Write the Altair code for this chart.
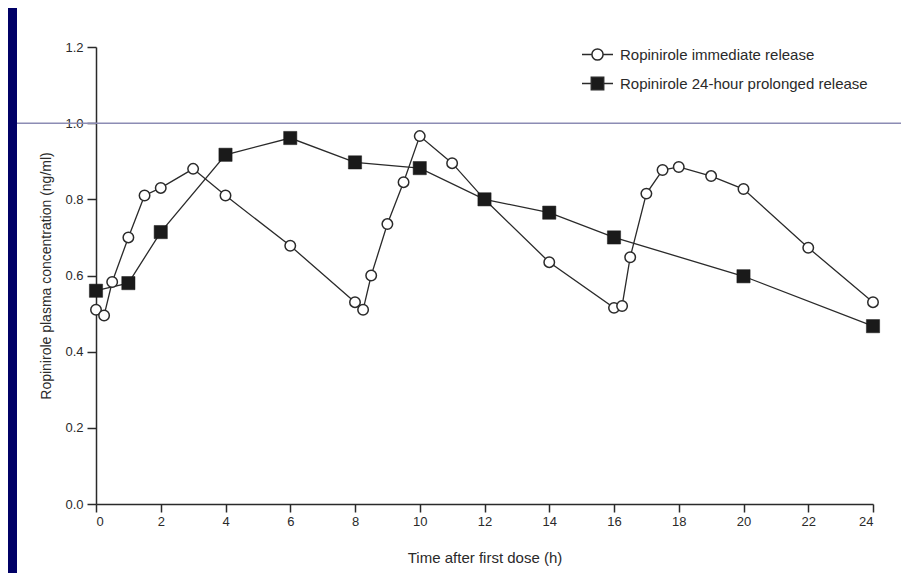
import altair as alt
import pandas as pd

# ---- data ----
ir_time = [0, 0.25, 0.5, 1, 1.5, 2, 3, 4, 6, 8, 8.25, 8.5, 9, 9.5, 10, 11, 12,
           14, 16, 16.25, 16.5, 17, 17.5, 18, 19, 20, 22, 24]
ir_conc = [0.51, 0.495, 0.583, 0.70, 0.81, 0.83, 0.88, 0.81, 0.678, 0.53, 0.51,
           0.60, 0.735, 0.845, 0.966, 0.895, 0.80, 0.635, 0.515, 0.52, 0.648,
           0.815, 0.877, 0.885, 0.861, 0.827, 0.673, 0.53]
pr_time = [0, 1, 2, 4, 6, 8, 10, 12, 14, 16, 20, 24]
pr_conc = [0.56, 0.58, 0.714, 0.917, 0.961, 0.897, 0.882, 0.80, 0.765, 0.70,
           0.598, 0.467]
series_names = ["Ropinirole immediate release",
                "Ropinirole 24-hour prolonged release"]
x_ticks = list(range(0, 25, 2))
y_ticks = [0.0, 0.2, 0.4, 0.6, 0.8, 1.0, 1.2]

df = pd.concat([
    pd.DataFrame({"time": ir_time, "conc": ir_conc, "series": series_names[0]}),
    pd.DataFrame({"time": pr_time, "conc": pr_conc, "series": series_names[1]}),
], ignore_index=True)

FONT = "Liberation Sans"
INK = "#2a2a2a"
NAVY = "#000066"
W, H = 777, 457

x_enc = alt.X("time:Q",
              scale=alt.Scale(domain=[0, 24], nice=False, zero=False),
              axis=alt.Axis(values=x_ticks, format="d",
                            title="Time after first dose (h)",
                            titleFontSize=15,
                            tickSize=8, labelPadding=3, titlePadding=22))
y_enc = alt.Y("conc:Q",
              scale=alt.Scale(domain=[0, 1.2], nice=False),
              axis=alt.Axis(values=y_ticks, format=".1f",
                            title="Ropinirole plasma concentration (ng/ml)",
                            tickSize=9, labelPadding=4, titlePadding=11))

base = alt.Chart(df)

one = pd.DataFrame({"k": [0]})
navy_strip = alt.Chart(one).mark_rect(color=NAVY).encode(
    x=alt.value(-88), x2=alt.value(-79), y=alt.value(-39), y2=alt.value(526))

slide_rule = alt.Chart(one).mark_rule(color="#8c8cb4", strokeWidth=1.5).encode(
    y=alt.datum(1.0), x=alt.value(-79), x2=alt.value(805))

lines = base.mark_line(color=INK, strokeWidth=1.3).encode(
    x=x_enc, y=y_enc, detail="series:N")

circles = base.transform_filter(
    alt.datum.series == series_names[0]
).mark_point(shape="circle", filled=True, fill="white", stroke=INK,
             strokeWidth=1.5, size=110, opacity=1).encode(x="time:Q", y="conc:Q")

squares = base.transform_filter(
    alt.datum.series == series_names[1]
).mark_point(shape="square", filled=True, fill="#1a1a1a", stroke="#1a1a1a",
             strokeWidth=0.5, size=175, opacity=1).encode(x="time:Q", y="conc:Q")

circle_path = ("M-1,0H-0.36M0.36,0H1M-0.36,0A0.36,0.36,0,1,0,0.36,0"
               "A0.36,0.36,0,1,0,-0.36,0Z")
square_path = "M-1,0H-0.4M0.4,0H1M-0.4,-0.4H0.4V0.4H-0.4Z"

leg = alt.Legend(title=None, orient="none", legendX=485, legendY=-9,
                 symbolSize=961, labelFontSize=15, labelFont=FONT,
                 labelColor=INK, labelOffset=6, rowPadding=3, padding=0,
                 labelLimit=0, symbolOpacity=1, symbolStrokeWidth=1.5)

legend_layer = base.transform_filter("false").mark_point(
    filled=False, strokeWidth=1.5
).encode(
    x="time:Q", y="conc:Q",
    shape=alt.Shape("series:N", scale=alt.Scale(domain=series_names,
                                                range=[circle_path, square_path]),
                    legend=leg),
    fill=alt.Fill("series:N", scale=alt.Scale(domain=series_names,
                                              range=["white", "#1a1a1a"]),
                  legend=leg),
    stroke=alt.Stroke("series:N", scale=alt.Scale(domain=series_names,
                                                  range=[INK, INK]),
                      legend=leg),
)

chart = alt.layer(
    navy_strip, slide_rule, lines, circles, squares, legend_layer
).properties(
    width=W, height=H,
    autosize=alt.AutoSizeParams(type="none"),
    padding={"left": 88, "top": 39, "right": 28, "bottom": 69},
    background="white",
).configure_view(stroke=None).configure_axis(
    grid=False, domainColor=INK, domainWidth=1.5, tickColor=INK, tickWidth=1.5,
    labelFont=FONT, labelFontSize=13, labelColor=INK,
    titleFont=FONT, titleFontSize=14, titleFontWeight="normal", titleColor=INK,
)

chart.save("out.html", embed_options={"renderer": "svg", "actions": False})
